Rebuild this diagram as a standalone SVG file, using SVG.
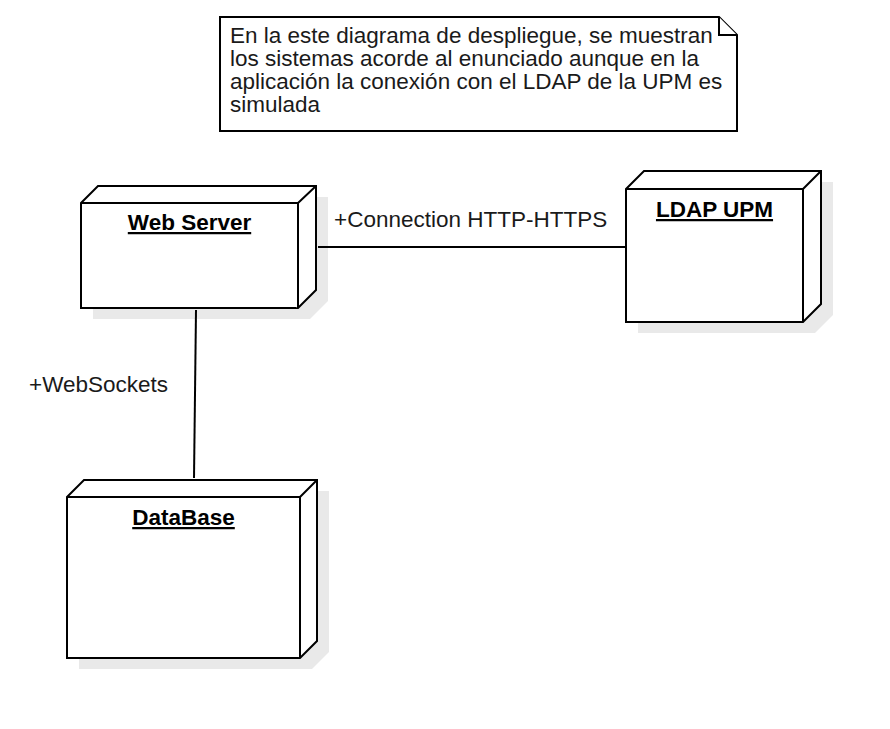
<svg xmlns="http://www.w3.org/2000/svg" width="890" height="729" viewBox="0 0 890 729">
<style>
  text { font-family: "Liberation Sans", Arial, sans-serif; font-size: 22.5px; fill: #1a1a1a; }
  .title { font-weight: bold; text-decoration: underline; text-anchor: middle; fill: #000; }
  .face { fill: #fff; stroke: #000; stroke-width: 2; stroke-linejoin: miter; }
  .shadow { fill: #e9e9e9; stroke: none; }
  .edge { fill: none; stroke: #000; stroke-width: 2; }
  .note { fill: #fff; stroke: #000; stroke-width: 2; }
</style>
<rect width="890" height="729" fill="#fff"/>

<g id="note">
  <path class="note" d="M220,17 H719 L737,35 V131 H220 Z"/>
  <path class="note" d="M719,17 V35 H737" fill="none"/>
  <text x="230" y="43">En la este diagrama de despliegue, se muestran</text>
  <text x="230" y="66">los sistemas acorde al enunciado aunque en la</text>
  <text x="230" y="89">aplicación la conexión con el LDAP de la UPM es</text>
  <text x="230" y="112">simulada</text>
</g>

<g id="web-server">
  <path class="shadow" d="M93,214 L110,197 H328 V301 L310,319 H93 Z"/>
  <path class="face" d="M81,203 L98,186 H316 V290 L298,308 H81 Z"/>
  <path class="face" d="M81,203 H298 V308 M298,203 L316,186" fill="none"/>
  <text class="title" x="189.5" y="230">Web Server</text>
</g>

<g id="ldap-upm">
  <path class="shadow" d="M638,200 L656,182 H833 V315 L815,333 H638 Z"/>
  <path class="face" d="M626,189 L644,171 H821 V304 L803,322 H626 Z"/>
  <path class="face" d="M626,189 H803 V322 M803,189 L821,171" fill="none"/>
  <text class="title" x="714.5" y="217">LDAP UPM</text>
</g>

<g id="database">
  <path class="shadow" d="M79,508 L96,491 H329 V652 L312,669 H79 Z"/>
  <path class="face" d="M67,497 L84,480 H317 V641 L300,658 H67 Z"/>
  <path class="face" d="M67,497 H300 V658 M300,497 L317,480" fill="none"/>
  <text class="title" x="183.5" y="525">DataBase</text>
</g>

<g id="connectors">
  <line class="edge" x1="318" y1="247" x2="626" y2="247"/>
  <line class="edge" x1="196" y1="310" x2="194" y2="478"/>
  <text x="334" y="227">+Connection HTTP-HTTPS</text>
  <text x="29" y="392">+WebSockets</text>
</g>
</svg>
